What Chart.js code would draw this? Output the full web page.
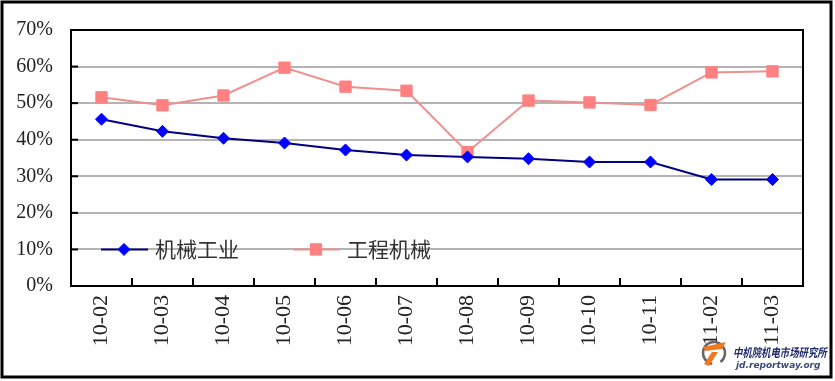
<!DOCTYPE html>
<html>
<head>
<meta charset="utf-8">
<script src="https://cdn.jsdelivr.net/npm/chart.js@4.4.1/dist/chart.umd.min.js"></script>
<style>
  html, body { margin: 0; padding: 0; background: #fff; }
  #wrap { width: 835px; height: 381px; }
</style>
</head>
<body>
<div id="wrap"><canvas id="chart" width="835" height="381"></canvas></div>
<script>
// months on the x axis
let months = ["10-02", "10-03", "10-04", "10-05", "10-06", "10-07", "10-08", "10-09", "10-10", "10-11", "11-02", "11-03"];
// 机械工业 (%)
let jixieGongye = [45.6, 42.3, 40.4, 39.1, 37.2, 35.8, 35.3, 34.8, 33.9, 33.9, 29.1, 29.1];
// 工程机械 (%)
let gongchengJixie = [51.6, 49.4, 52.1, 59.7, 54.5, 53.4, 36.6, 50.7, 50.2, 49.5, 58.4, 58.7];
let yTicks = [0, 10, 20, 30, 40, 50, 60, 70];

// frame, inward ticks, in-plot legend and the watermark
let decor = {
    id: "decor",
    beforeDraw(chart) {
        let c = chart.ctx;
        c.save();
        c.fillStyle = "#fff";
        c.fillRect(0, 0, chart.width, chart.height);
        c.restore();
    },
    afterDatasetsDraw(chart) {
        let c = chart.ctx;
        let a = chart.chartArea;
        let xs = chart.scales.x;
        let ys = chart.scales.y;
        c.save();
        // plot frame
        c.strokeStyle = "#000";
        c.lineWidth = 2;
        c.strokeRect(a.left, a.top, a.right - a.left, a.bottom - a.top);
        // y ticks pointing inwards
        yTicks.forEach(function (v) {
            let y = ys.getPixelForValue(v);
            c.beginPath();
            c.moveTo(a.left, y);
            c.lineTo(a.left + 7, y);
            c.stroke();
        });
        // x ticks between categories
        for (let i = 1; i < months.length; i++) {
            let x = (xs.getPixelForValue(i - 1) + xs.getPixelForValue(i)) / 2;
            c.beginPath();
            c.moveTo(x, a.bottom);
            c.lineTo(x, a.bottom - 8);
            c.stroke();
        }
        // legend inside the plot, on the 10% line
        let ly = ys.getPixelForValue(10);
        let starts = [a.left + 30, a.left + 222];
        chart.data.datasets.forEach(function (ds, i) {
            let x0 = starts[i];
            c.strokeStyle = ds.borderColor;
            c.lineWidth = 2;
            c.beginPath();
            c.moveTo(x0, ly);
            c.lineTo(x0 + 47, ly);
            c.stroke();
            c.fillStyle = ds.pointBackgroundColor;
            c.strokeStyle = ds.pointBorderColor;
            c.lineWidth = 1;
            Chart.helpers.drawPoint(c, {
                pointStyle: ds.pointStyle,
                radius: ds.pointRadius,
                borderWidth: 1
            }, x0 + 23, ly);
            c.fillStyle = "#333";
            c.font = "21px 'Noto Sans CJK SC'";
            c.textAlign = "left";
            c.textBaseline = "middle";
            c.fillText(ds.label, x0 + 54, ly);
        });
        // outer frame
        c.strokeStyle = "#000";
        c.lineWidth = 3;
        c.strokeRect(2, 2, 829, 375);
        // watermark
        c.beginPath();
        c.arc(714, 353, 11, Math.PI * 0.55, Math.PI * 2.3);
        c.lineWidth = 2.5;
        c.strokeStyle = "#666";
        c.stroke();
        c.fillStyle = "#f07820";
        c.beginPath();
        c.moveTo(703, 347);
        c.lineTo(726, 342);
        c.lineTo(722, 349);
        c.lineTo(705, 351);
        c.closePath();
        c.fill();
        c.beginPath();
        c.moveTo(712, 352);
        c.lineTo(718, 352);
        c.lineTo(709, 366);
        c.lineTo(704, 364);
        c.closePath();
        c.fill();
        c.save();
        c.translate(733, 352);
        c.scale(0.78, 1);
        c.font = "italic bold 12px 'Noto Sans CJK SC'";
        c.fillStyle = "#1f2a6e";
        c.textAlign = "left";
        c.textBaseline = "middle";
        c.fillText("中机院机电市场研究所", 0, 0);
        c.restore();
        c.font = "italic bold 9px 'DejaVu Sans'";
        c.fillStyle = "#3a4a7a";
        c.textAlign = "left";
        c.textBaseline = "middle";
        c.fillText("jd.reportway.org", 736, 366);
        c.restore();
    }
};

let ctx = document.getElementById("chart").getContext("2d");

let chart = new Chart(ctx, {
    type: "line",
    data: {
        labels: months,
        datasets: [
            {
                label: "机械工业",
                data: jixieGongye,
                borderColor: "#000080",
                borderWidth: 2,
                pointStyle: "rectRot",
                pointRadius: 6,
                pointBackgroundColor: "#0000ff",
                pointBorderColor: "#0000ff",
                pointBorderWidth: 1,
                tension: 0
            },
            {
                label: "工程机械",
                data: gongchengJixie,
                borderColor: "#ee9090",
                borderWidth: 2,
                pointStyle: "rect",
                pointRadius: 8,
                pointBackgroundColor: "#ff8080",
                pointBorderColor: "#ff8080",
                pointBorderWidth: 1,
                tension: 0
            }
        ]
    },
    options: {
        responsive: false,
        animation: false,
        layout: { padding: { left: 0, top: 27, right: 32, bottom: 0 } },
        plugins: {
            legend: { display: false },
            tooltip: { enabled: false }
        },
        scales: {
            x: {
                offset: true,
                grid: { display: false, drawTicks: false },
                border: { color: "#000", width: 2 },
                ticks: {
                    minRotation: 90,
                    maxRotation: 90,
                    padding: 9,
                    color: "#222",
                    font: { family: "'Liberation Serif'", size: 22 }
                },
                afterFit(s) { s.height = 95; }
            },
            y: {
                min: 0,
                max: 70,
                afterBuildTicks(s) { s.ticks = yTicks.map(v => ({ value: v })); },
                grid: { color: "#b4b4b4", lineWidth: 2, drawTicks: false },
                border: { color: "#000", width: 2 },
                ticks: {
                    padding: 18,
                    color: "#222",
                    font: { family: "'Liberation Serif'", size: 20 },
                    callback: v => v + "%"
                },
                afterFit(s) { s.width = 71; }
            }
        }
    },
    plugins: [decor]
});
</script>
</body>
</html>
